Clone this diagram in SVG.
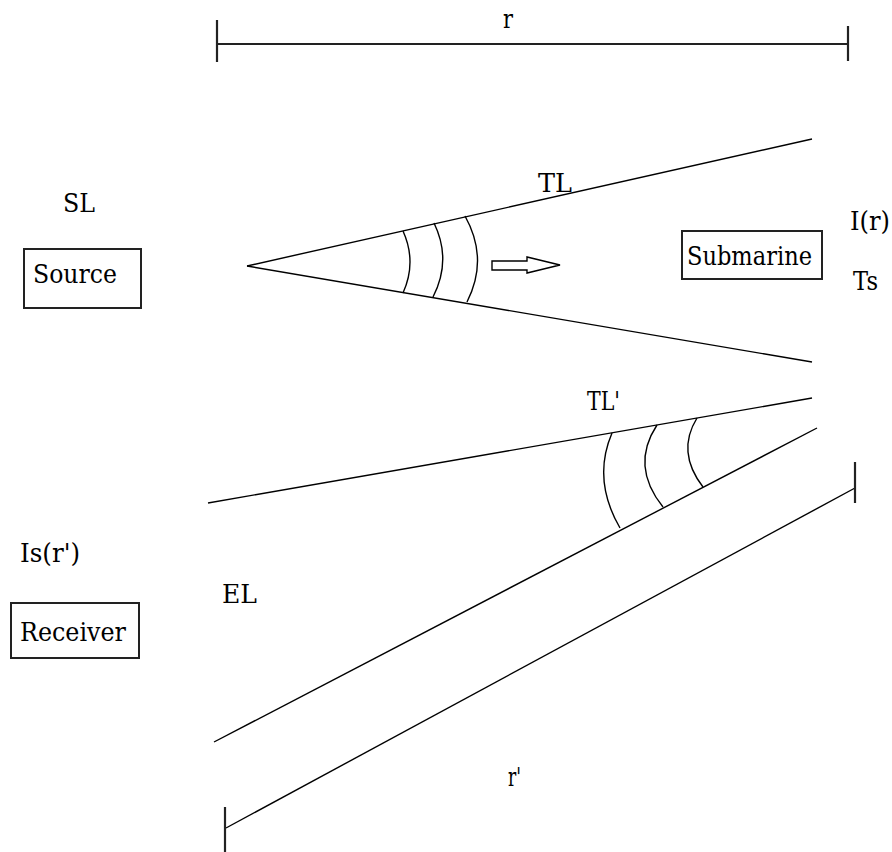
<svg xmlns="http://www.w3.org/2000/svg" width="892" height="852" viewBox="0 0 892 852">
<style>
.t{font-family:"DejaVu Serif","Liberation Serif",serif;font-size:26px;fill:#000}
.ln{stroke:#000;stroke-width:1.4;fill:none}
.ms{stroke:#222;stroke-width:2.2;fill:none}
.box{stroke:#222;stroke-width:2;fill:#fff}
</style>
<rect width="892" height="852" fill="#fff"/>
<g id="connectors">
<line class="ms" x1="217" y1="44" x2="848" y2="44"/>
<line class="ms" x1="217" y1="20" x2="217" y2="62"/>
<line class="ms" x1="848" y1="26" x2="848" y2="61"/>
<line class="ln" x1="247" y1="266" x2="812" y2="139"/>
<line class="ln" x1="247" y1="266" x2="812" y2="362"/>
<path class="ln" d="M403,231 Q417,262 403,293"/>
<path class="ln" d="M434,223 Q452,260 433,297"/>
<path class="ln" d="M465,216 Q489,259 467,302"/>
<path class="ln" d="M492,261 L527,261 L527,257 L560,265 L527,273 L527,270 L492,270 Z"/>
<line class="ln" x1="208" y1="503" x2="812" y2="398"/>
<line class="ln" x1="214" y1="742" x2="817" y2="428"/>
<path class="ln" d="M612,433 Q592,480 620,528"/>
<path class="ln" d="M657,425 Q630,466 663,507"/>
<path class="ln" d="M697,418 Q676,452 703,487"/>
<line class="ln" x1="226" y1="828" x2="855" y2="488"/>
<line class="ms" x1="225" y1="807" x2="225" y2="852"/>
<line class="ms" x1="855" y1="462" x2="855" y2="503"/>
</g>
<g id="source">
<rect class="box" x="24" y="249" width="117" height="59"/>
<text class="t" x="33" y="283" textLength="84" lengthAdjust="spacingAndGlyphs">Source</text>
</g>
<g id="submarine">
<rect class="box" x="682" y="231" width="140" height="48"/>
<text class="t" x="687" y="265" textLength="125" lengthAdjust="spacingAndGlyphs">Submarine</text>
</g>
<g id="receiver">
<rect class="box" x="11" y="603" width="128" height="55"/>
<text class="t" x="20" y="641" textLength="106" lengthAdjust="spacingAndGlyphs">Receiver</text>
</g>
<g id="labels">
<text class="t" x="503" y="28" textLength="10" lengthAdjust="spacingAndGlyphs">r</text>
<text class="t" x="63" y="212" textLength="32" lengthAdjust="spacingAndGlyphs">SL</text>
<text class="t" x="538" y="192" textLength="34" lengthAdjust="spacingAndGlyphs">TL</text>
<text class="t" x="850" y="230" textLength="40" lengthAdjust="spacingAndGlyphs">I(r)</text>
<text class="t" x="853" y="290" textLength="25" lengthAdjust="spacingAndGlyphs">Ts</text>
<text class="t" x="587" y="410" textLength="33" lengthAdjust="spacingAndGlyphs">TL'</text>
<text class="t" x="20" y="562" textLength="60" lengthAdjust="spacingAndGlyphs">Is(r')</text>
<text class="t" x="222" y="603" textLength="35" lengthAdjust="spacingAndGlyphs">EL</text>
<text class="t" x="508" y="786" textLength="13" lengthAdjust="spacingAndGlyphs">r'</text>
</g>
</svg>
